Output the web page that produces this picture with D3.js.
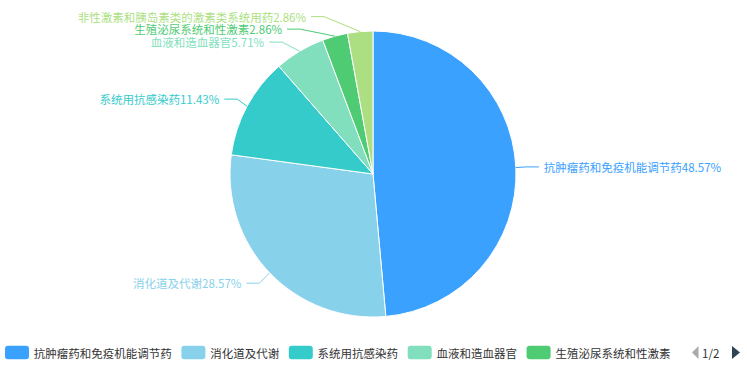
<!DOCTYPE html>
<html><head><meta charset="utf-8">
<script src="https://cdn.jsdelivr.net/npm/d3@7"></script>
<style>
html,body{margin:0;padding:0;background:#fff;}
svg{display:block;font-family:"Microsoft YaHei","Noto Sans CJK SC","Noto Sans",sans-serif;}
</style>
</head><body>
<svg id="chart" width="747" height="367"></svg>
<script>
const categories = ["抗肿瘤药和免疫机能调节药","消化道及代谢","系统用抗感染药","血液和造血器官","生殖泌尿系统和性激素","非性激素和胰岛素类的激素类系统用药"];
const values = [17, 10, 4, 2, 1, 1];
const colors = ["#3AA1FF","#88D1EA","#36CBCB","#82DFBE","#4ECB73","#ACDF82"];
const legendPageText = "1/2";

const W = 747, H = 367;
const cx = 373, cy = 174, r = 143;
const len1 = 15, len2 = 13, labelDist = 5, labelH = 12.5;
const fontSize = 11.5;

const svg = d3.select("#chart");
const data = categories.map((c, i) => ({name: c, value: values[i], color: colors[i]}));
const total = d3.sum(values);

const pie = d3.pie().sort(null).value(d => d.value);
const arcs = pie(data);
const arcGen = d3.arc().innerRadius(0).outerRadius(r);

const g = svg.append("g");
g.selectAll("path.slice").data(arcs).join("path")
  .attr("class", "slice")
  .attr("transform", `translate(${cx},${cy})`)
  .attr("d", arcGen)
  .attr("fill", d => d.data.color)
  .attr("stroke", "#fff")
  .attr("stroke-width", 1);

// label layout (ECharts-like)
const labels = arcs.map(a => {
  const mid = (a.startAngle + a.endAngle) / 2;
  const dx = Math.sin(mid), dy = -Math.cos(mid);
  const side = dx < 0 ? -1 : 1;
  const ex = cx + r * dx, ey = cy + r * dy;
  const x2 = cx + (r + len1) * dx, y2 = cy + (r + len1) * dy;
  const x3 = x2 + side * len2;
  return {
    d: a.data, side, ex, ey, x2, x3,
    textX: x3 + side * labelDist,
    y: y2 - labelH / 2, h: labelH,
    text: a.data.name + (a.data.value / total * 100).toFixed(2) + "%"
  };
});

function adjustSide(list, side) {
  list.sort((a, b) => a.y - b.y);
  const n = list.length;
  const top = 0, bottom = H;
  function shiftUp(end, delta) {
    for (let j = end; j >= 0; j--) {
      if (list[j].y - delta < top) break;
      list[j].y -= delta;
      if (j > 0 && list[j].y > list[j - 1].y + list[j - 1].h) break;
    }
  }
  function shiftDown(start, end, delta) {
    for (let j = start; j < end; j++) {
      if (list[j].y + delta > bottom) break;
      list[j].y += delta;
      if (j > start && j + 1 < end && list[j + 1].y > list[j].y + list[j].h) {
        shiftUp(j, delta / 2);
        return;
      }
    }
    shiftUp(end - 1, delta / 2);
  }
  let lastY = 0;
  for (let i = 0; i < n; i++) {
    const delta = list[i].y - lastY;
    if (delta < 0) shiftDown(i, n, -delta);
    lastY = list[i].y + list[i].h;
  }
  const up = [], down = [];
  list.forEach(l => ((l.y + l.h / 2) >= cy ? down : up).push(l));
  function changeX(items, isDown) {
    let last = isDown ? Number.MAX_VALUE : 0;
    const R = r + len1 + len2;
    items.forEach(l => {
      const dY = Math.abs(l.y + l.h / 2 - cy);
      let dX = dY < r + len1 ? Math.sqrt(R * R - dY * dY) : Math.abs(l.textX - cx);
      if (isDown && dX >= last) dX = last - 10;
      if (!isDown && dX <= last) dX = last + 10;
      l.textX = cx + dX * side;
      last = dX;
    });
  }
  changeX(up, false);
  changeX(down, true);
}
adjustSide(labels.filter(l => l.side < 0), -1);
adjustSide(labels.filter(l => l.side > 0), 1);

labels.forEach(l => {
  const yc = l.y + l.h / 2;
  const lineEnd = l.textX - l.side * labelDist;
  const bend = lineEnd - l.side * len2;
  l.points = [[l.ex, l.ey], [bend, yc], [lineEnd, yc]];
  l.yc = yc;
});

const lg = svg.append("g");
lg.selectAll("polyline").data(labels).join("polyline")
  .attr("points", d => d.points.map(p => p.join(",")).join(" "))
  .attr("fill", "none")
  .attr("stroke", d => d.d.color)
  .attr("stroke-width", 1);
lg.selectAll("text").data(labels).join("text")
  .attr("x", d => d.textX)
  .attr("y", d => d.yc)
  .attr("dominant-baseline", "central")
  .attr("text-anchor", d => d.side < 0 ? "end" : "start")
  .attr("font-size", fontSize)
  .attr("fill", d => d.d.color)
  .text(d => d.text);

// legend (scroll type, page 1 of 2: content clipped before the pager)
const legY = 352.5, iconW = 24, iconH = 13.4, iconGap = 4.8, itemGap = 9.6, clipRight = 680;
svg.append("clipPath").attr("id", "legclip")
  .append("rect").attr("x", 0).attr("y", 335).attr("width", clipRight).attr("height", 32);
const leg = svg.append("g").attr("clip-path", "url(#legclip)");
let lx = 5;
data.forEach(d => {
  if (lx >= clipRight) return;
  leg.append("rect").attr("x", lx).attr("y", legY - iconH / 2)
    .attr("width", iconW).attr("height", iconH).attr("rx", 3).attr("ry", 3)
    .attr("fill", d.color);
  const tx = lx + iconW + iconGap;
  if (tx >= clipRight) return; // text lies entirely on the next legend page
  const t = leg.append("text").attr("x", tx).attr("y", legY)
    .attr("dominant-baseline", "central").attr("font-size", fontSize).attr("fill", "#333")
    .text(d.name);
  lx = tx + t.node().getComputedTextLength() + itemGap;
});
// pager
svg.append("path").attr("d", `M692,${legY} L698.5,${legY - 6.5} L698.5,${legY + 6.5} Z`).attr("fill", "#aaa");
svg.append("text").attr("x", 702).attr("y", legY).attr("dominant-baseline", "central")
  .attr("font-size", fontSize).attr("fill", "#333").text(legendPageText);
svg.append("path").attr("d", `M732,${legY - 6.5} L740,${legY} L732,${legY + 6.5} Z`).attr("fill", "#2f4554");
</script>
</body></html>
